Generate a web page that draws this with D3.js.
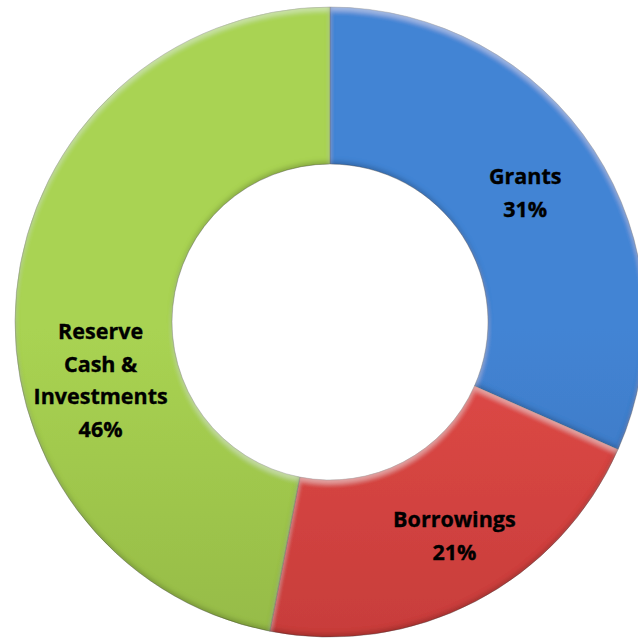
<!DOCTYPE html>
<html>
<head>
<meta charset="utf-8">
<script src="https://cdn.jsdelivr.net/npm/d3@7"></script>
<style>
  html, body { margin: 0; padding: 0; background: #ffffff; }
  svg { display: block; }
</style>
</head>
<body>
<div id="chart"></div>
<script>
// Funding sources, share of total (%)
const categories = ["Grants", "Borrowings", "Reserve Cash & Investments"];
const values = [31, 21, 46];
const labelLines = [["Grants"], ["Borrowings"], ["Reserve", "Cash &", "Investments"]];
const percentLabels = ["31%", "21%", "46%"];

const width = 638, height = 639;
const cx = 330, cy = 322;
const outerR = 315, innerR = 158;

// top / bottom shades for each slice's vertical gradient
const shades = {
  "Grants": ["#4384d4", "#33609e"],
  "Borrowings": ["#e04a47", "#ae302e"],
  "Reserve Cash & Investments": ["#a9d352", "#82a23c"]
};

// nudges for label blocks away from the arc centroid
const labelNudge = {
  "Grants": [-3, 0],
  "Borrowings": [15, 4],
  "Reserve Cash & Investments": [6, 81]
};

const svg = d3.select("#chart").append("svg")
  .attr("width", width).attr("height", height);

const defs = svg.append("defs");

categories.forEach((c, i) => {
  const g = defs.append("linearGradient")
    .attr("id", "grad" + i)
    .attr("gradientUnits", "userSpaceOnUse")
    .attr("x1", 0).attr("y1", cy - outerR)
    .attr("x2", 0).attr("y2", cy + outerR);
  g.append("stop").attr("offset", 0).attr("stop-color", shades[c][0]);
  g.append("stop").attr("offset", 1).attr("stop-color", shades[c][1]);
});

// soft bevel: light rims on up-facing edges, dark rims on down-facing edges
const f = defs.append("filter").attr("id", "bevel")
  .attr("x", "-5%").attr("y", "-5%").attr("width", "110%").attr("height", "110%");
f.append("feGaussianBlur").attr("in", "SourceAlpha").attr("stdDeviation", 2.4).attr("result", "blur");
f.append("feOffset").attr("in", "blur").attr("dy", 3.5).attr("result", "down");
f.append("feOffset").attr("in", "blur").attr("dy", -3.5).attr("result", "up");
f.append("feComposite").attr("in", "SourceAlpha").attr("in2", "down").attr("operator", "out").attr("result", "topRim");
f.append("feComposite").attr("in", "SourceAlpha").attr("in2", "up").attr("operator", "out").attr("result", "botRim");
f.append("feFlood").attr("flood-color", "#ffffff").attr("flood-opacity", 0.35).attr("result", "white");
f.append("feComposite").attr("in", "white").attr("in2", "topRim").attr("operator", "in").attr("result", "hi");
f.append("feFlood").attr("flood-color", "#000000").attr("flood-opacity", 0.4).attr("result", "black");
f.append("feComposite").attr("in", "black").attr("in2", "botRim").attr("operator", "in").attr("result", "lo");
const m = f.append("feMerge");
m.append("feMergeNode").attr("in", "SourceGraphic");
m.append("feMergeNode").attr("in", "hi");
m.append("feMergeNode").attr("in", "lo");

const pie = d3.pie().sort(null).value(d => d.value);
const data = categories.map((c, i) => ({ name: c, value: values[i], lines: labelLines[i], pct: percentLabels[i], idx: i }));
const arcs = pie(data);

const arc = d3.arc().innerRadius(innerR).outerRadius(outerR);

const g = svg.append("g").attr("transform", `translate(${cx},${cy})`);

g.selectAll("path.slice")
  .data(arcs)
  .join("path")
  .attr("class", "slice")
  .attr("d", arc)
  .attr("fill", d => `url(#grad${d.data.idx})`)
  .attr("stroke", "rgba(40,40,40,0.35)")
  .attr("stroke-width", 0.8)
  .attr("filter", "url(#bevel)");

const lineH = 32.5;
const labels = g.selectAll("g.label")
  .data(arcs)
  .join("g")
  .attr("class", "label")
  .attr("transform", d => {
    const [x, y] = arc.centroid(d);
    const n = labelNudge[d.data.name];
    return `translate(${x + n[0]},${y + n[1]})`;
  });

labels.each(function (d) {
  const lines = d.data.lines.concat([d.data.pct]);
  const sel = d3.select(this);
  lines.forEach((t, i) => {
    sel.append("text")
      .attr("x", 0)
      .attr("y", (i - (lines.length - 1) / 2) * lineH)
      .attr("dy", "0.36em")
      .attr("text-anchor", "middle")
      .attr("font-family", "'Open Sans', 'Noto Sans', sans-serif")
      .attr("font-weight", "bold")
      .attr("font-size", 21.5)
      .attr("fill", "#000000")
      .attr("stroke", "#000000")
      .attr("stroke-width", 0.35)
      .text(t);
  });
});
</script>
</body>
</html>
